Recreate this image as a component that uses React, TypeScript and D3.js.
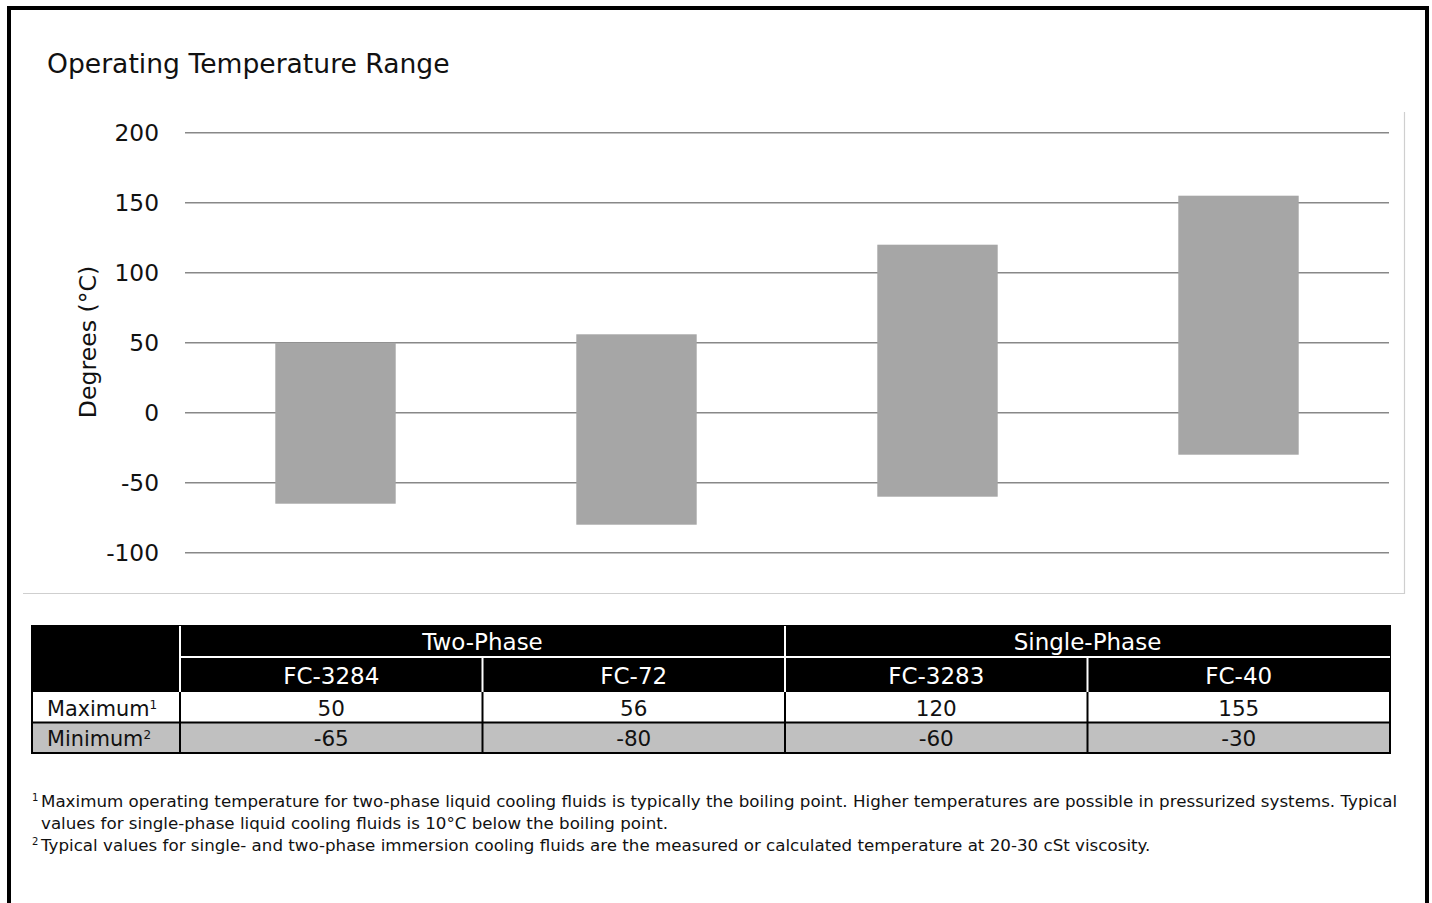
import React from "react";
import * as d3 from "d3";

const fluids = ["FC-3284", "FC-72", "FC-3283", "FC-40"];
const maxTemps = [50, 56, 120, 155];
const minTemps = [-65, -80, -60, -30];
const groups = ["Two-Phase", "Single-Phase"];
const groupSpans = [2, 2];
const yTicks = [-100, -50, 0, 50, 100, 150, 200];
const title = "Operating Temperature Range";
const yLabel = "Degrees (°C)";
const rowLabels = ["Maximum", "Minimum"];
const rowSups = ["1", "2"];
const footnotes = [
  { sup: "1", lines: [
    "Maximum operating temperature for two-phase liquid cooling fluids is typically the boiling point. Higher temperatures are possible in pressurized systems. Typical",
    "values for single-phase liquid cooling fluids is 10°C below the boiling point.",
  ] },
  { sup: "2", lines: [
    "Typical values for single- and two-phase immersion cooling fluids are the measured or calculated temperature at 20-30 cSt viscosity.",
  ] },
];

const FONT = "'DejaVu Sans', 'Liberation Sans', sans-serif";

export default function App() {
  const W = 1432, H = 903;
  const plotL = 185, plotR = 1389;
  const y = d3.scaleLinear().domain([-100, 200]).range([552.7, 132.7]);
  const x = d3.scaleBand<string>().domain(fluids).range([plotL, plotR]).paddingInner(0.6).paddingOuter(0.3);

  const tL = 31, tC = 180, tR = 1390;
  const tx = d3.scaleBand<string>().domain(fluids).range([tC, tR]);
  const h1T = 625, h1B = 657, h2B = 692, r1B = 722.5, r2B = 753;
  const colW = tx.bandwidth();

  let acc = 0;
  const groupPos = groups.map((g, i) => {
    const x0 = tC + acc * colW;
    acc += groupSpans[i];
    const x1 = tC + acc * colW;
    return { g, x0, x1 };
  });

  return (
    <div style={{ position: "absolute", left: 0, top: 0, width: W, height: H, overflow: "hidden", background: "#fff" }}>
      <svg width={W} height={H} style={{ display: "block", fontFamily: FONT }}>
        <rect x={0} y={0} width={W} height={H} fill="#fff" />
        <path d={`M9,${H + 5} V8 H1427 V${H + 5}`} fill="none" stroke="#000" strokeWidth={4} />
        <path d="M23,593.5 H1404.5 V112" fill="none" stroke="#cfcfcf" strokeWidth={1.2} />

        <text x={47} y={73} fontSize={26.6} fill="#111">{title}</text>

        {yTicks.map((t) => (
          <g key={t}>
            <line x1={plotL} x2={plotR} y1={y(t)} y2={y(t)} stroke="#888" strokeWidth={1.4} />
            <text x={159} y={y(t)} dy="0.36em" textAnchor="end" fontSize={23.3} fill="#111">{t}</text>
          </g>
        ))}
        <text transform={`translate(96,342) rotate(-90)`} textAnchor="middle" fontSize={23.6} fill="#111">{yLabel}</text>

        {fluids.map((f, i) => (
          <rect key={f} x={x(f)} width={x.bandwidth()} y={y(maxTemps[i])} height={y(minTemps[i]) - y(maxTemps[i])} fill="#a6a6a6" />
        ))}

        <rect x={tL} y={h1T} width={tR - tL + 1} height={h2B - h1T} fill="#000" />
        <line x1={tC} x2={tR} y1={h1B} y2={h1B} stroke="#fff" strokeWidth={2} />
        <line x1={tC} x2={tC} y1={h1T + 1} y2={h2B} stroke="#fff" strokeWidth={2} />
        {groupPos.slice(1).map((gp) => (
          <line key={gp.g} x1={gp.x0} x2={gp.x0} y1={h1T + 1} y2={h2B} stroke="#fff" strokeWidth={2} />
        ))}
        {fluids.slice(1).map((f) => (
          <line key={f} x1={tx(f)} x2={tx(f)} y1={h1B} y2={h2B} stroke="#fff" strokeWidth={2} />
        ))}
        {groupPos.map((gp) => (
          <text key={gp.g} x={(gp.x0 + gp.x1) / 2} y={(h1T + h1B) / 2 + 1} dy="0.36em" textAnchor="middle" fontSize={23} fill="#fff">{gp.g}</text>
        ))}
        {fluids.map((f) => (
          <text key={f} x={(tx(f) as number) + colW / 2} y={(h1B + h2B) / 2 + 1} dy="0.36em" textAnchor="middle" fontSize={23} fill="#fff">{f}</text>
        ))}

        <rect x={tL + 1} y={h2B} width={tR - tL - 1} height={r1B - h2B} fill="#fff" />
        <rect x={tL + 1} y={r1B} width={tR - tL - 1} height={r2B - r1B} fill="#c0c0c0" />
        {[r1B, r2B].map((yy) => (
          <line key={yy} x1={tL} x2={tR + 1} y1={yy} y2={yy} stroke="#000" strokeWidth={2} />
        ))}
        <line x1={tL + 1} x2={tL + 1} y1={h2B} y2={r2B + 1} stroke="#000" strokeWidth={2} />
        <line x1={tR} x2={tR} y1={h2B} y2={r2B + 1} stroke="#000" strokeWidth={2} />
        {fluids.map((f) => (
          <line key={f} x1={tx(f)} x2={tx(f)} y1={h2B} y2={r2B} stroke="#000" strokeWidth={2} />
        ))}
        {[maxTemps, minTemps].map((vals, r) => {
          const top = r === 0 ? h2B : r1B;
          const bot = r === 0 ? r1B : r2B;
          const cy = (top + bot) / 2 + 1;
          return (
            <g key={r}>
              <text x={47} y={cy} dy="0.36em" fontSize={20.8} fill="#111">
                {rowLabels[r]}
                <tspan fontSize={12} dy="-0.6em">{rowSups[r]}</tspan>
              </text>
              {vals.map((v, i) => (
                <text key={i} x={(tx(fluids[i]) as number) + colW / 2} y={cy} dy="0.36em" textAnchor="middle" fontSize={21.5} fill="#111">{v}</text>
              ))}
            </g>
          );
        })}

        {(() => {
          let line = 0;
          return footnotes.map((fn) => (
            <g key={fn.sup}>
              {fn.lines.map((ln, j) => {
                const by = 807 + (line++) * 22;
                return (
                  <g key={j}>
                    {j === 0 && <text x={32} y={by - 6.5} fontSize={10} fill="#111">{fn.sup}</text>}
                    <text x={41} y={by} fontSize={16.7} fill="#111">{ln}</text>
                  </g>
                );
              })}
            </g>
          ));
        })()}
      </svg>
    </div>
  );
}
